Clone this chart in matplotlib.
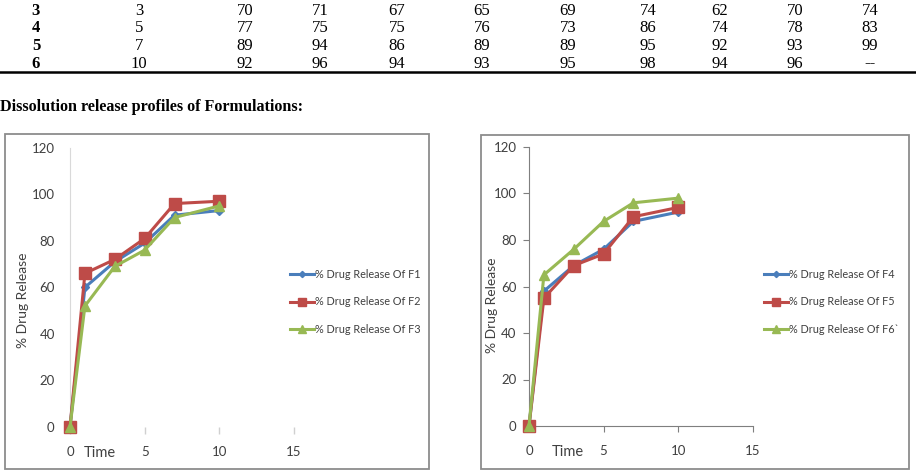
import matplotlib
matplotlib.use("Agg")
import matplotlib.pyplot as plt
from matplotlib.patches import Rectangle
from matplotlib.lines import Line2D

# ---------------- data ----------------
table_rows = ["3", "4", "5", "6"]
table_time = ["3", "5", "7", "10"]
table_vals = [
    ["70", "71", "67", "65", "69", "74", "62", "70", "74"],
    ["77", "75", "75", "76", "73", "86", "74", "78", "83"],
    ["89", "94", "86", "89", "89", "95", "92", "93", "99"],
    ["92", "96", "94", "93", "95", "98", "94", "96", "--"],
]

time = [0, 1, 3, 5, 7, 10]
f1 = [0, 60, 71, 79, 91, 93]
f2 = [0, 66, 72, 81, 96, 97]
f3 = [0, 52, 69, 76, 90, 95]
f4 = [0, 58, 69, 76, 88, 92]
f5 = [0, 55, 69, 74, 90, 94]
f6 = [0, 65, 76, 88, 96, 98]

labels_left = ["% Drug Release Of F1", "% Drug Release Of F2", "% Drug Release Of F3"]
labels_right = ["% Drug Release Of F4", "% Drug Release Of F5", "% Drug Release Of F6`"]

heading = "Dissolution release profiles of Formulations:"
xlabel = "Time"
ylabel = "% Drug Release"
xticks = [0, 5, 10, 15]
yticks = [0, 20, 40, 60, 80, 100, 120]

# ---------------- style ----------------
W, H = 916, 472
BLUE, RED, GREEN = "#4A7EBB", "#BE4B48", "#98B954"
TXT = "#404040"
CHART_FONT = "Lato"

fig = plt.figure(figsize=(W / 100, H / 100), dpi=100)

def fx(px):
    return px / W

def fy(py):
    return 1 - py / H

# ---------------- table ----------------
col_x = [36, 139, 245, 320, 397, 482, 568, 648, 720, 795, 870]
row_y = [11, 28.5, 46, 63.5]
for i, r in enumerate(table_rows):
    cells = [r, table_time[i]] + table_vals[i]
    for j, c in enumerate(cells):
        fig.text(fx(col_x[j]), fy(row_y[i]), c, ha="center", va="center",
                 fontsize=12, family="Liberation Serif",
                 fontweight="bold" if j == 0 else "normal", color="black")
fig.add_artist(Line2D([0, 1], [fy(71.5), fy(71.5)], color="black", lw=1.8,
                      transform=fig.transFigure))

fig.text(fx(0), fy(107), heading, ha="left", va="center", fontsize=11.6,
         family="Liberation Serif", fontweight="bold", color="black")

# ---------------- chart boxes ----------------
for (x0, y0, x1, y1) in [(5, 134, 429, 469), (481, 135, 909, 469)]:
    fig.add_artist(Rectangle((fx(x0), fy(y1)), fx(x1 - x0), (y1 - y0) / H,
                             transform=fig.transFigure, fill=False,
                             edgecolor="#8C8C8C", lw=1.3))


def make_chart(ax_px, series, labels, legend_px, light, ylab_px, time_px):
    x0, x1, ytop, ybot = ax_px
    ax = fig.add_axes([fx(x0), fy(ybot), fx(x1 - x0), (ybot - ytop) / H])
    styles = [(BLUE, "D", 4.5), (RED, "s", 8), (GREEN, "^", 7.5)]
    handles = []
    for s, (c, m, ms), lab in zip(series, styles, labels):
        h, = ax.plot(time, s, color=c, lw=2.2, marker=m, ms=ms, mec=c, mfc=c,
                     label=lab, clip_on=False, zorder=3)
        handles.append(h)
    ax.set_xlim(0, 15)
    ax.set_ylim(0, 120)
    ax.set_xticks(xticks)
    ax.set_yticks(yticks)
    for sp in ["top", "right"]:
        ax.spines[sp].set_visible(False)
    if light:
        ax.spines["left"].set_color("#D9D9D9")
        ax.spines["bottom"].set_visible(False)
        ax.tick_params(axis="y", length=0, pad=11)
        ax.tick_params(axis="x", length=5, width=1, color="#D0D0D0", pad=9,
                       direction="out")
    else:
        ax.spines["left"].set_color("#7F7F7F")
        ax.spines["bottom"].set_color("#7F7F7F")
        ax.tick_params(axis="y", length=4, color="#7F7F7F", pad=5)
        ax.tick_params(axis="x", length=4, color="#7F7F7F", pad=10)
    for t in ax.get_xticklabels() + ax.get_yticklabels():
        t.set_fontfamily(CHART_FONT)
        t.set_fontsize(9.5)
        t.set_color(TXT)
    ax.patch.set_alpha(0)

    fig.text(fx(ylab_px[0]), fy(ylab_px[1]), ylabel, rotation=90, ha="center",
             va="center", fontsize=10, family=CHART_FONT, color=TXT)
    fig.text(fx(time_px[0]), fy(time_px[1]), xlabel, ha="left", va="center",
             fontsize=10.5, family=CHART_FONT, color=TXT)

    leg = fig.legend(handles=handles, loc="center left",
                     bbox_to_anchor=(fx(legend_px[0]), fy(legend_px[1])),
                     frameon=False, handlelength=2.2, handletextpad=0.15,
                     labelspacing=1.55, prop={"family": CHART_FONT, "size": 7.8},
                     markerscale=0.7, borderaxespad=0, borderpad=0)
    for t in leg.get_texts():
        t.set_color(TXT)
    return ax


make_chart((70, 294, 147.7, 427), [f1, f2, f3], labels_left, (290, 302), True,
           (23, 300), (84, 453))
make_chart((529, 752.7, 147, 426), [f4, f5, f6], labels_right, (764, 302), False,
           (492, 305), (552, 452))

fig.savefig("out.png", dpi=100)
